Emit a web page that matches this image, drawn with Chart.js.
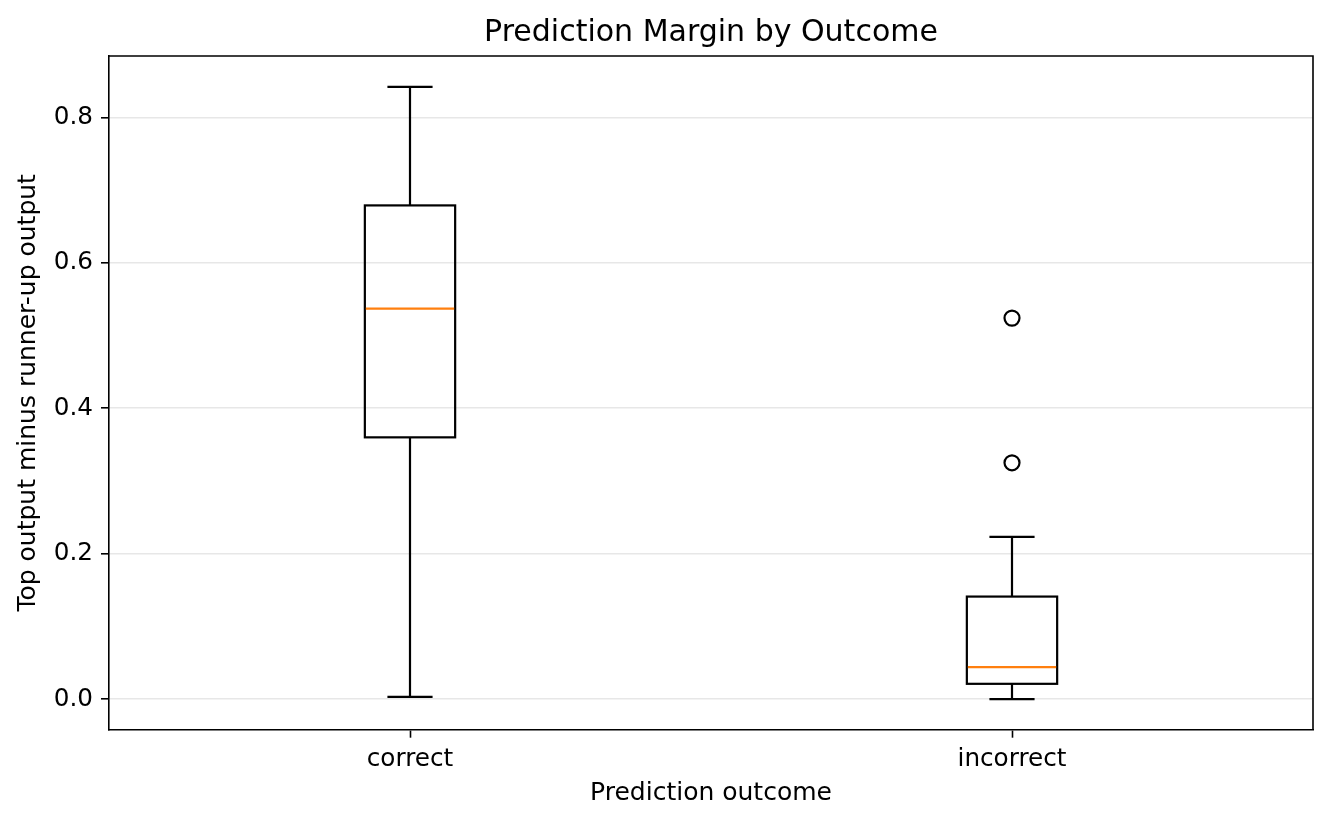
<!DOCTYPE html>
<html lang="en">
<head>
  <meta charset="UTF-8">
  <title>Prediction Margin by Outcome</title>
  <style>
    body {
      margin: 0;
      background: #fff;
    }
  </style>
</head>
<body>

<canvas id="marginChart" width="1331" height="823"></canvas>

<script src="https://cdn.jsdelivr.net/npm/chart.js"></script>
<script>
// values
const categories = ["correct", "incorrect"];
const positions = [1, 2];
const whiskerLow = [0.003, 0.0];
const q1 = [0.360, 0.021];
const median = [0.537, 0.044];
const q3 = [0.679, 0.141];
const whiskerHigh = [0.842, 0.223];
const outlierX = [2, 2];
const outlierY = [0.524, 0.325];
const yTicks = [0.0, 0.2, 0.4, 0.6, 0.8];

const boxHalf = 0.075;
const font = "DejaVu Sans";

// boxes, whiskers, caps and medians drawn through the chart scales
const boxPlugin = {
  id: "boxes",
  afterDatasetsDraw(chart) {
    const ctx = chart.ctx;
    const xs = chart.scales.x;
    const ys = chart.scales.y;
    ctx.save();
    ctx.lineWidth = 2.2;
    for (let i = 0; i < positions.length; i++) {
      const x = xs.getPixelForValue(positions[i]);
      const half = xs.getPixelForValue(positions[i] + boxHalf) - x;
      const cap = half / 2;
      const yLo = ys.getPixelForValue(whiskerLow[i]);
      const yQ1 = ys.getPixelForValue(q1[i]);
      const yMed = ys.getPixelForValue(median[i]);
      const yQ3 = ys.getPixelForValue(q3[i]);
      const yHi = ys.getPixelForValue(whiskerHigh[i]);

      ctx.strokeStyle = "#000";
      ctx.beginPath();
      ctx.moveTo(x, yLo); ctx.lineTo(x, yQ1);
      ctx.moveTo(x, yQ3); ctx.lineTo(x, yHi);
      ctx.moveTo(x - cap, yLo); ctx.lineTo(x + cap, yLo);
      ctx.moveTo(x - cap, yHi); ctx.lineTo(x + cap, yHi);
      ctx.stroke();
      ctx.strokeRect(x - half, yQ3, half * 2, yQ1 - yQ3);

      ctx.strokeStyle = "#ff7f0e";
      ctx.beginPath();
      ctx.moveTo(x - half + 1, yMed); ctx.lineTo(x + half - 1, yMed);
      ctx.stroke();
    }
    // top and right spines
    const a = chart.chartArea;
    ctx.strokeStyle = "#000";
    ctx.lineWidth = 1.6;
    ctx.beginPath();
    ctx.moveTo(a.left, a.top); ctx.lineTo(a.right, a.top); ctx.lineTo(a.right, a.bottom);
    ctx.stroke();
    ctx.restore();
  }
};

new Chart(document.getElementById("marginChart"), {
  type: "scatter",
  data: {
    datasets: [{
      label: "outliers",
      data: outlierX.map((x, i) => ({ x: x, y: outlierY[i] })),
      pointRadius: 7.5,
      pointHoverRadius: 7.5,
      pointBorderWidth: 2.2,
      borderColor: "#000",
      backgroundColor: "rgba(0,0,0,0)"
    }]
  },
  options: {
    responsive: false,
    animation: false,
    devicePixelRatio: 1,
    layout: { padding: { left: 0, right: 18, top: 0, bottom: 0 } },
    plugins: {
      legend: { display: false },
      tooltip: { enabled: false },
      title: {
        display: true,
        fullSize: false,
        text: "Prediction Margin by Outcome",
        color: "#000",
        font: { family: font, size: 30, weight: "normal" },
        padding: { top: 15, bottom: 5 }
      }
    },
    scales: {
      x: {
        type: "linear",
        min: 0.5,
        max: 2.5,
        afterFit: (s) => { s.height = 93.3; },
        afterBuildTicks: (s) => { s.ticks = positions.map(v => ({ value: v })); },
        ticks: {
          color: "#000",
          font: { family: font, size: 24.7 },
          padding: 7.5,
          maxRotation: 0,
          callback: (v) => categories[positions.indexOf(v)]
        },
        grid: { drawOnChartArea: false, drawTicks: true, tickLength: 8, tickColor: "#000", tickWidth: 1.6 },
        border: { display: true, color: "#000", width: 1.6 },
        title: {
          display: true,
          text: "Prediction outcome",
          color: "#000",
          font: { family: font, size: 25 },
          padding: { top: 0, bottom: 15 }
        }
      },
      y: {
        min: -0.0421,
        max: 0.8845,
        afterFit: (s) => { s.width = 109; },
        afterBuildTicks: (s) => { s.ticks = yTicks.map(v => ({ value: v })); },
        ticks: {
          color: "#000",
          font: { family: font, size: 24.7 },
          padding: 8,
          callback: (v) => v.toFixed(1)
        },
        grid: { color: "#e7e7e7", lineWidth: 1.6, drawTicks: true, tickLength: 8, tickColor: "#000", tickWidth: 1.6 },
        border: { display: true, color: "#000", width: 1.6 },
        title: {
          display: true,
          text: "Top output minus runner-up output",
          color: "#000",
          font: { family: font, size: 25 },
          padding: { top: 13, bottom: 0 }
        }
      }
    }
  },
  plugins: [boxPlugin]
});
</script>
</body>
</html>
